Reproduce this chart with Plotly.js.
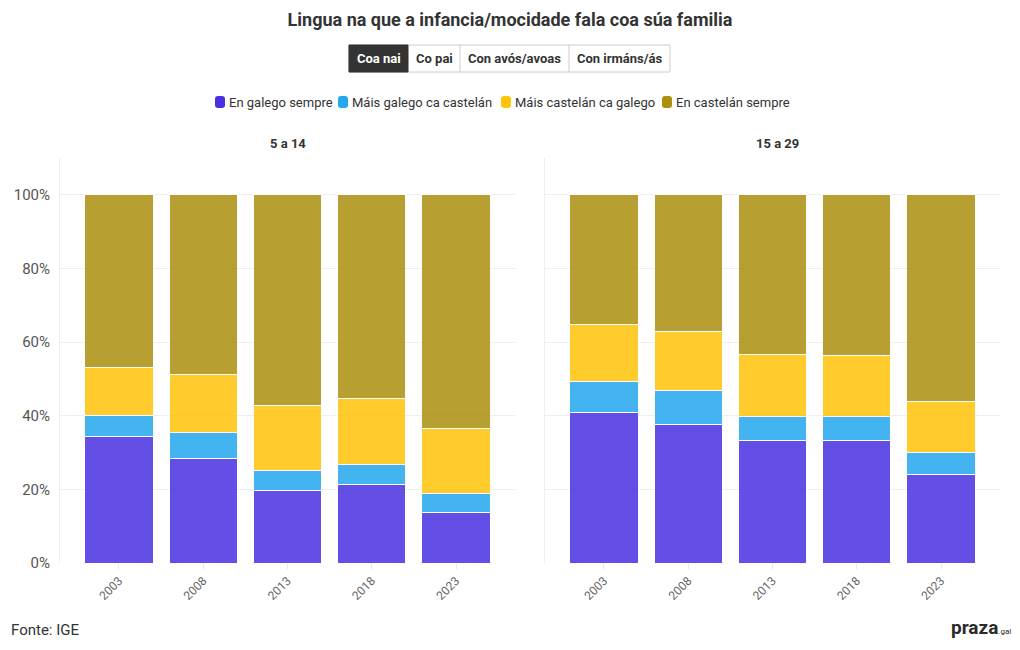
<!DOCTYPE html>
<html>
<head>
<meta charset="utf-8">
<script src="https://cdn.plot.ly/plotly-3.0.1.min.js"></script>
<style>html,body{margin:0;padding:0;background:#fff;}#chart{width:1020px;height:650px;}</style>
</head>
<body>
<div id="chart"></div>
<script>
// ---- data ----
const years = ['2003', '2008', '2013', '2018', '2023'];
const seriesNames = ['En galego sempre', 'Máis galego ca castelán', 'Máis castelán ca galego', 'En castelán sempre'];
const seriesColors = ['#4931e2', '#23a8ed', '#ffc309', '#ab8f0e'];
const panelTitles = ['5 a 14', '15 a 29'];
const buttonLabels = ['Coa nai', 'Co pai', 'Con avós/avoas', 'Con irmáns/ás'];
const yTickVals = [0, 20, 40, 60, 80, 100];
const yTickText = ['0%', '20%', '40%', '60%', '80%', '100%'];

// 5 a 14
const galegoSempre_5_14   = [34.3, 28.3, 19.6, 21.2, 13.8];
const maisGalego_5_14     = [5.7, 7.1, 5.5, 5.5, 5.2];
const maisCastelan_5_14   = [13.2, 15.8, 17.8, 18.0, 17.5];
const castelanSempre_5_14 = [46.8, 48.8, 57.1, 55.3, 63.5];
// 15 a 29
const galegoSempre_15_29   = [40.9, 37.7, 33.4, 33.2, 24.1];
const maisGalego_15_29     = [8.3, 9.1, 6.5, 6.7, 5.9];
const maisCastelan_15_29   = [15.7, 16.2, 16.6, 16.4, 14.0];
const castelanSempre_15_29 = [35.1, 37.0, 43.5, 43.7, 56.0];

const panels = [
  [galegoSempre_5_14, maisGalego_5_14, maisCastelan_5_14, castelanSempre_5_14],
  [galegoSempre_15_29, maisGalego_15_29, maisCastelan_15_29, castelanSempre_15_29]
];

// ---- geometry helpers (layout only) ----
const W = 1020, H = 650;
const M = {l: 60, r: 20, t: 158, b: 87};
const PW = W - M.l - M.r, PH = H - M.t - M.b;
const px = x => (x - M.l) / PW;
const py = y => (563 - y) / PH;

const FONT = 'Roboto, "Liberation Sans", sans-serif';

const traces = [];
panels.forEach((p, pi) => {
  p.forEach((vals, si) => {
    traces.push({
      type: 'bar',
      x: years,
      y: vals,
      name: seriesNames[si],
      showlegend: false,
      xaxis: pi === 0 ? 'x' : 'x2',
      yaxis: pi === 0 ? 'y' : 'y2',
      marker: {color: seriesColors[si], opacity: 0.85, line: {color: '#ffffff', width: 1}},
      hovertemplate: '%{x}: %{y:.1f}%<extra>' + seriesNames[si] + '</extra>'
    });
  });
});

const xBase = {
  type: 'category',
  range: [-0.7, 4.7],
  tickangle: -45,
  tickfont: {size: 12, color: '#666', family: FONT},
  ticks: 'outside', ticklen: 5, tickcolor: '#e6e6e6',
  showgrid: false, zeroline: false, showline: false, fixedrange: true, automargin: false
};
const yBase = {
  range: [0, 110],
  tickmode: 'array',
  tickvals: yTickVals,
  ticktext: yTickText,
  tickfont: {size: 15, color: '#555', family: FONT},
  ticklabelstandoff: 6,
  showgrid: true, gridcolor: '#eeeeee', gridwidth: 1,
  zeroline: false, showline: true, linecolor: '#eeeeee', linewidth: 1,
  ticks: '', fixedrange: true, automargin: false
};

const shapes = [];
const annotations = [];

// subplot titles
annotations.push({text: '<b>' + panelTitles[0] + '</b>', xref: 'paper', yref: 'paper', x: px(287.5), y: py(143), xanchor: 'center', yanchor: 'middle', showarrow: false, font: {size: 13, color: '#333', family: FONT}});
annotations.push({text: '<b>' + panelTitles[1] + '</b>', xref: 'paper', yref: 'paper', x: px(777), y: py(143), xanchor: 'center', yanchor: 'middle', showarrow: false, font: {size: 13, color: '#333', family: FONT}});

// buttons
const btnEdges = [349, 408, 460, 569, 670];
const btnTop = 45, btnBot = 72;
shapes.push({type: 'rect', xref: 'paper', yref: 'paper', x0: px(btnEdges[0]), x1: px(btnEdges[4]), y0: py(btnBot), y1: py(btnTop), line: {color: '#cccccc', width: 1}, fillcolor: '#ffffff', layer: 'above'});
shapes.push({type: 'rect', xref: 'paper', yref: 'paper', x0: px(btnEdges[0]), x1: px(btnEdges[1]), y0: py(btnBot), y1: py(btnTop), line: {color: '#333333', width: 1}, fillcolor: '#333333', layer: 'above'});
for (let i = 2; i < 4; i++) {
  shapes.push({type: 'line', xref: 'paper', yref: 'paper', x0: px(btnEdges[i]), x1: px(btnEdges[i]), y0: py(btnBot), y1: py(btnTop), line: {color: '#cccccc', width: 1}, layer: 'above'});
}
buttonLabels.forEach((lab, i) => {
  annotations.push({text: '<b>' + lab + '</b>', xref: 'paper', yref: 'paper', x: px((btnEdges[i] + btnEdges[i + 1]) / 2), y: py((btnTop + btnBot) / 2), xanchor: 'center', yanchor: 'middle', showarrow: false, font: {size: 13, color: i === 0 ? '#ffffff' : '#333333', family: FONT}});
});

// custom legend (rounded keys)
const legendKeyX = [220, 343, 506, 667];
const legendY = 102;
const keyPath = 'M -5,-3 L -5,3 Q -5,6 -2,6 L 2,6 Q 5,6 5,3 L 5,-3 Q 5,-6 2,-6 L -2,-6 Q -5,-6 -5,-3 Z';
seriesNames.forEach((nm, i) => {
  shapes.push({type: 'path', xref: 'paper', yref: 'paper', xsizemode: 'pixel', ysizemode: 'pixel', xanchor: px(legendKeyX[i]), yanchor: py(legendY), path: keyPath, fillcolor: seriesColors[i], line: {width: 0}, layer: 'above'});
  annotations.push({text: nm, xref: 'paper', yref: 'paper', x: px(legendKeyX[i] + 7), y: py(legendY), xanchor: 'left', yanchor: 'middle', showarrow: false, font: {size: 13, color: '#333', family: FONT}});
});

// footer
annotations.push({text: 'Fonte: IGE', xref: 'paper', yref: 'paper', x: px(9), y: py(630), xanchor: 'left', yanchor: 'middle', showarrow: false, font: {size: 15, color: '#333', family: FONT}});
annotations.push({text: '<b>praza</b><span style="font-size:8px">.gal</span>', xref: 'paper', yref: 'paper', x: px(1013), y: py(627), xanchor: 'right', yanchor: 'middle', showarrow: false, font: {size: 19, color: '#2a2a2a', family: FONT}});

const layout = {
  width: W, height: H,
  autosize: false,
  margin: Object.assign({autoexpand: false}, M),
  paper_bgcolor: '#ffffff', plot_bgcolor: '#ffffff',
  font: {family: FONT, color: '#333'},
  title: {text: '<b>Lingua na que a infancia/mocidade fala coa súa familia</b>', x: 0.5, xref: 'container', xanchor: 'center', y: 1 - 20 / H, yref: 'container', yanchor: 'middle', font: {size: 18, color: '#333', family: FONT}},
  barmode: 'stack',
  bargap: 0.19,
  showlegend: false,
  xaxis: Object.assign({}, xBase, {domain: [0, px(515)], anchor: 'y'}),
  xaxis2: Object.assign({}, xBase, {domain: [px(545), 1], anchor: 'y2'}),
  yaxis: Object.assign({}, yBase, {domain: [0, 1], anchor: 'x'}),
  yaxis2: Object.assign({}, yBase, {domain: [0, 1], anchor: 'x2', showticklabels: false, matches: 'y'}),
  shapes: shapes,
  annotations: annotations,
  hovermode: 'closest'
};

Plotly.newPlot('chart', traces, layout, {displayModeBar: false, responsive: false});
</script>
</body>
</html>
